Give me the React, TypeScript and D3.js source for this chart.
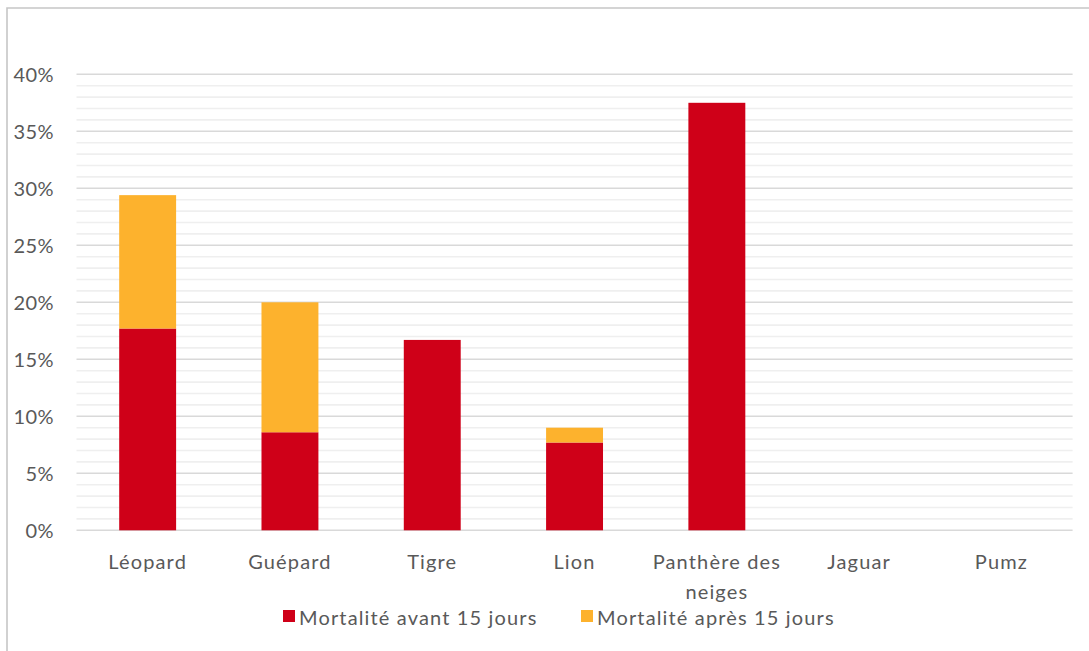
import React from "react";
import * as d3 from "d3";

const categories = ["Léopard", "Guépard", "Tigre", "Lion", "Panthère des neiges", "Jaguar", "Pumz"];
const before15 = [0.177, 0.086, 0.167, 0.077, 0.375, 0, 0];
const after15 = [0.117, 0.114, 0, 0.013, 0, 0, 0];
const seriesNames = ["Mortalité avant 15 jours", "Mortalité après 15 jours"];
const seriesColors = ["#cf0018", "#fdb22d"];
const yTicks = [0, 0.05, 0.1, 0.15, 0.2, 0.25, 0.3, 0.35, 0.4];

const W = 1089;
const H = 651;
const FONT = "Lato, 'Open Sans', sans-serif";
const TEXT = "#595959";
const FS = 20;
const LS = 1.15;

function wrapLabel(s: string): string[] {
  if (s.length <= 12) return [s];
  const i = s.lastIndexOf(" ");
  return [s.slice(0, i), s.slice(i + 1)];
}

export default function App() {
  const x = d3.scaleBand<string>().domain(categories).range([76.5, 1072.6]).padding(0);
  const y = d3.scaleLinear().domain([0, 0.4]).range([530.3, 74.3]);
  const minor = d3.range(0, 41).map((d) => d / 100);
  const barW = x.bandwidth() * 0.4;

  const stacked = d3
    .stack<number>()
    .keys(["a", "b"])
    .value((i, key) => (key === "a" ? before15[i] : after15[i]))(d3.range(categories.length));

  return (
    <svg
      width={W}
      height={H}
      style={{ position: "absolute", left: 0, top: 0, background: "#fff" }}
    >
      <rect x={0} y={0} width={W} height={H} fill="#fff" />
      <path d={`M7,${H + 5} L7,8 L${W + 5},8`} fill="none" stroke="#c6c6c6" strokeWidth={1.6} />
      {minor.map((v, i) =>
        i % 5 === 0 ? null : (
          <line key={"m" + i} x1={76.5} x2={1072.6} y1={y(v)} y2={y(v)} stroke="#efefef" strokeWidth={1.6} />
        )
      )}
      {yTicks.map((v, i) => (
        <line key={"g" + i} x1={76.5} x2={1072.6} y1={y(v)} y2={y(v)} stroke="#d9d9d9" strokeWidth={1.6} />
      ))}
      {yTicks.map((v, i) => (
        <text
          key={"t" + i}
          x={54}
          y={y(v)}
          textAnchor="end"
          dominantBaseline="central"
          fontFamily={FONT}
          fontSize={FS}
          letterSpacing={0.4}
          fill={TEXT}
        >
          {d3.format(".0%")(v)}
        </text>
      ))}
      {stacked.map((layer, li) =>
        layer.map((seg, i) => {
          const h = y(seg[0]) - y(seg[1]);
          if (h <= 0) return null;
          return (
            <rect
              key={li + "-" + i}
              x={(x(categories[i]) as number) + (x.bandwidth() - barW) / 2}
              y={y(seg[1])}
              width={barW}
              height={h}
              fill={seriesColors[li]}
            />
          );
        })
      )}
      {categories.map((c) => {
        const lines = wrapLabel(c);
        const cx = (x(c) as number) + x.bandwidth() / 2;
        return (
          <text key={c} x={cx} y={561} textAnchor="middle" fontFamily={FONT} fontSize={FS} letterSpacing={LS} fill={TEXT}>
            {lines.map((l, j) => (
              <tspan key={j} x={cx} y={561 + j * 30} dominantBaseline="central">
                {l}
              </tspan>
            ))}
          </text>
        );
      })}
      {seriesNames.map((n, i) => {
        const lx = i === 0 ? 283 : 581;
        return (
          <g key={n}>
            <rect x={lx} y={610} width={12} height={12} fill={seriesColors[i]} />
            <text x={lx + 16} y={616.5} dominantBaseline="central" fontFamily={FONT} fontSize={FS} letterSpacing={LS} fill={TEXT}>
              {n}
            </text>
          </g>
        );
      })}
    </svg>
  );
}
